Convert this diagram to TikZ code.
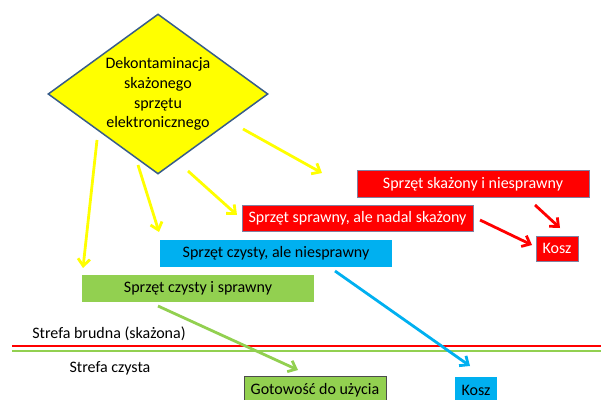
\documentclass[tikz,border=0pt]{standalone}
\usepackage{fontspec}
\setmainfont{Carlito}
\usepackage{tikz}
\usetikzlibrary{arrows.meta, positioning, shapes.geometric}
\definecolor{dkyellow}{RGB}{255,255,0}
\definecolor{dkred}{RGB}{255,0,0}
\definecolor{dkblue}{RGB}{0,176,240}
\definecolor{dkgreen}{RGB}{146,208,80}
\definecolor{dkedge}{RGB}{56,93,138}
\definecolor{boxedge}{RGB}{128,128,160}

\begin{document}
\begin{tikzpicture}[x=1pt, y=-1pt,
          font=\fontsize{16}{19.7}\selectfont,
          box/.style={rectangle, inner sep=0pt, minimum height=26.5pt},
          redbox/.style={box, fill=dkred, draw=boxedge, line width=0.8pt, text=white},
          bluebox/.style={box, fill=dkblue},
          greenbox/.style={box, fill=dkgreen},
          arr/.style={-{Straight Barb[length=7pt, width=12pt]}, line width=2.8pt}]

          \useasboundingbox (0,0) rectangle (601,399);

          % Nodes
          \node[diamond, aspect=1.375, minimum width=220pt, minimum height=160pt, inner sep=0pt,
                fill=dkyellow, draw=dkedge, line width=1.5pt, align=center] (dek) at (158,94)
                {Dekontaminacja\\skażonego\\sprzętu\\elektronicznego};
          \node[redbox, minimum width=232pt] (skni) at (473,184) {Sprzęt skażony i niesprawny};
          \node[redbox, minimum width=231pt] (sprsk) at (357.5,218.5) {Sprzęt sprawny, ale nadal skażony};
          \node[redbox, minimum width=42pt, minimum height=25pt] (koszr) at (557,248.5) {Kosz};
          \node[bluebox, minimum width=232pt] (czni) at (276,253.5) {Sprzęt czysty, ale niesprawny};
          \node[greenbox, minimum width=232pt] (czsp) at (198,288.5) {Sprzęt czysty i sprawny};
          \node[greenbox, draw=black!70, line width=0.8pt, minimum width=142pt] (gotowe) at (315,390) {Gotowość do użycia};
          \node[bluebox, minimum width=42pt] (koszb) at (476,390) {Kosz};
          \node (brudna) at (109,334) {Strefa brudna (skażona)};
          \node (czysta) at (110,368) {Strefa czysta};

          % Zone lines
          \draw[dkred, line width=2.8pt] (12,346) -- (601,346);
          \draw[dkgreen, line width=2.8pt] (12,351) -- (601,351);

          % Arrow ends
          \coordinate (y1a) at (97,140);   \coordinate (y1b) at (83,268);
          \coordinate (y2a) at (138,165);  \coordinate (y2b) at (159,232);
          \coordinate (y3a) at (188,171);  \coordinate (y3b) at (237,215);
          \coordinate (y4a) at (243,129);  \coordinate (y4b) at (322,173);
          \coordinate (r1a) at (535,205);  \coordinate (r1b) at (560,228);
          \coordinate (r2a) at (480,220);  \coordinate (r2b) at (532,245);
          \coordinate (ba) at (335,271);   \coordinate (bb) at (470,366);
          \coordinate (ga) at (158,306);   \coordinate (gb) at (298,370);

          % Arrows
          \draw[arr, dkyellow] (y1a) -- (y1b);
          \draw[arr, dkyellow] (y2a) -- (y2b);
          \draw[arr, dkyellow] (y3a) -- (y3b);
          \draw[arr, dkyellow] (y4a) -- (y4b);
          \draw[arr, dkred] (r1a) -- (r1b);
          \draw[arr, dkred] (r2a) -- (r2b);
          \draw[arr, dkblue] (ba) -- (bb);
          \draw[arr, dkgreen] (ga) -- (gb);
        \end{tikzpicture}
\end{document}
